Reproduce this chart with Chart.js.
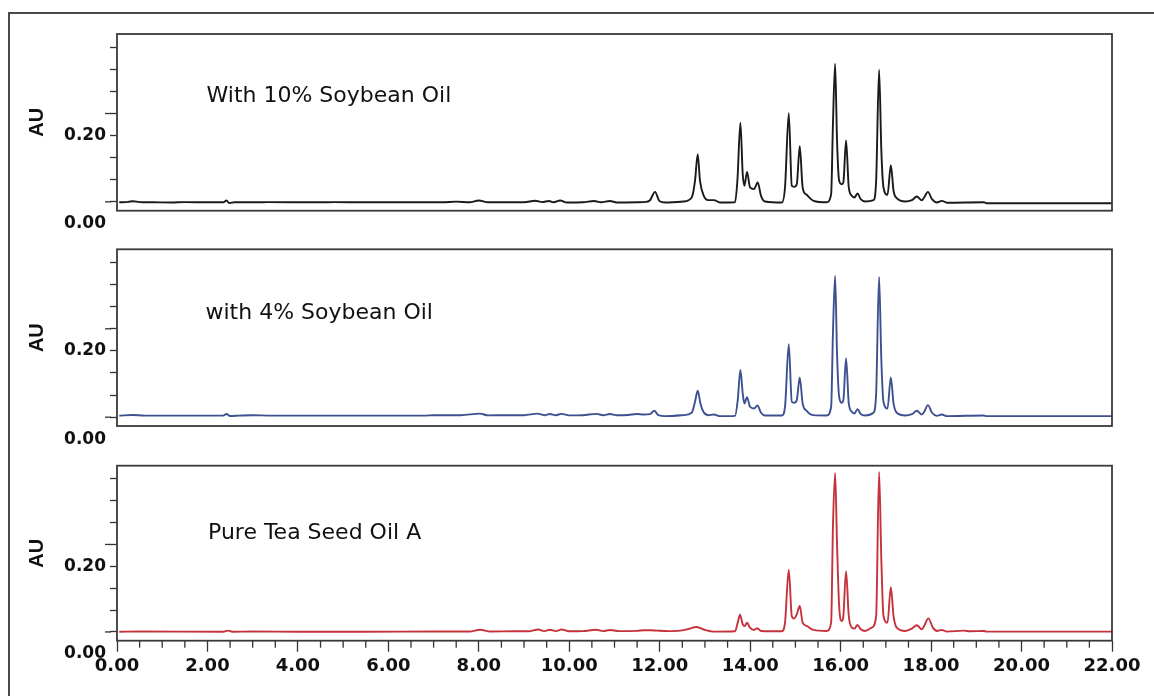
<!DOCTYPE html>
<html><head><meta charset="utf-8">
<script src="https://cdn.jsdelivr.net/npm/chart.js@4"></script>
<style>
html,body{margin:0;padding:0;background:#fff;}
#wrap{position:relative;width:1154px;height:696px;overflow:hidden;background:#fff;}
#frame{position:absolute;left:8px;top:12px;width:1200px;height:800px;border:2px solid #4a4a4a;box-sizing:border-box;}
canvas{position:absolute;left:0;top:0;}
</style></head><body>
<div id="wrap"><div id="frame"></div>
<canvas id="c1" width="1154" height="696"></canvas>
<canvas id="c2" width="1154" height="696"></canvas>
<canvas id="c3" width="1154" height="696"></canvas>
</div>
<script>
// ---- data: [retention time (min), absorbance (AU)] ----
const PANEL_LABELS = ['With 10% Soybean Oil', 'with 4% Soybean Oil', 'Pure Tea Seed Oil A'];
const X_LABELS = ['0.00','2.00','4.00','6.00','8.00','10.00','12.00','14.00','16.00','18.00','20.00','22.00'];
const Y_TICKS = [0.05,0.10,0.15,0.20,0.25,0.30,0.35,0.40];
const Y_LABELED = 0.20;
const Y_LONG_TICKS = [0.05,0.25];
const Y_ZERO_LABEL = '0.00';

const SOY10 = [
[0.05,0.049],[0.25,0.050],[0.35,0.0515],[0.5,0.0495],[0.8,0.049],[1.2,0.0485],[1.5,0.0495],[2.0,0.049],[2.35,0.049],[2.42,0.053],[2.48,0.0475],[2.6,0.049],[3.2,0.049],[3.3,0.0495],[4.5,0.049],[4.8,0.0495],[5.5,0.049],[6.5,0.049],[7.2,0.049],[7.5,0.0505],[7.8,0.049],[8.0,0.053],[8.2,0.049],[8.6,0.049],[9.0,0.049],[9.25,0.0525],[9.4,0.0495],[9.55,0.052],[9.65,0.049],[9.8,0.053],[9.95,0.0485],[10.3,0.049],[10.55,0.052],[10.7,0.049],[10.9,0.052],[11.05,0.0485],[11.5,0.049],[11.7,0.050],
[11.785,0.0537],[11.896,0.0727],[11.99,0.0523],[12.12,0.0485],[12.52,0.0507],[12.707,0.0598],[12.78,0.0977],[12.84,0.158],[12.89,0.098],[12.965,0.066],[13.075,0.054],[13.20,0.054],[13.33,0.0485],[13.665,0.049],[13.717,0.0977],[13.784,0.229],[13.835,0.113],[13.872,0.0864],[13.93,0.118],[13.997,0.0826],[14.085,0.079],[14.167,0.094],[14.24,0.0636],[14.33,0.0507],[14.70,0.0485],[14.77,0.0826],[14.853,0.2507],[14.92,0.0864],[14.97,0.084],[15.03,0.090],[15.096,0.176],[15.16,0.0826],[15.25,0.066],[15.40,0.0523],[15.69,0.049],[15.79,0.0674],[15.83,0.2265],[15.878,0.363],[15.92,0.1886],[15.967,0.0977],[16.025,0.090],[16.06,0.094],[16.12,0.189],[16.18,0.0826],[16.25,0.0636],[16.306,0.060],[16.372,0.069],[16.445,0.056],[16.54,0.0507],[16.725,0.0537],[16.785,0.0977],[16.85,0.349],[16.90,0.166],[16.947,0.0826],[17.036,0.066],[17.11,0.133],[17.17,0.075],[17.24,0.0583],[17.43,0.0507],[17.575,0.0537],[17.685,0.0621],[17.795,0.0537],[17.847,0.060],[17.93,0.0727],[18.02,0.056],[18.13,0.0485],[18.24,0.0523],[18.35,0.048],[19.16,0.049],[19.23,0.047],[22.0,0.047]
];

const SOY4 = [
[0.05,0.0535],[0.35,0.055],[0.6,0.0535],[1.8,0.0535],[2.35,0.0535],[2.42,0.057],[2.5,0.0525],[2.7,0.0535],[3.0,0.0545],[3.4,0.0535],[4.0,0.0535],[5.5,0.0535],[6.8,0.0535],[7.0,0.0545],[7.6,0.0545],[8.03,0.058],[8.2,0.054],[8.6,0.0545],[9.0,0.0545],[9.3,0.058],[9.45,0.0545],[9.57,0.057],[9.7,0.0545],[9.83,0.0575],[10.0,0.054],[10.3,0.0545],[10.6,0.0575],[10.75,0.0545],[10.9,0.057],[11.05,0.0545],[11.3,0.055],[11.49,0.057],[11.65,0.056],
[11.785,0.0568],[11.88,0.0644],[11.97,0.0545],[12.12,0.0523],[12.52,0.0545],[12.707,0.060],[12.78,0.0848],[12.84,0.1098],[12.9,0.081],[12.965,0.0621],[13.075,0.0545],[13.20,0.056],[13.33,0.0523],[13.665,0.053],[13.725,0.0886],[13.784,0.157],[13.835,0.1038],[13.872,0.081],[13.93,0.095],[13.997,0.0735],[14.085,0.0697],[14.16,0.0765],[14.24,0.060],[14.33,0.0538],[14.70,0.0538],[14.77,0.0735],[14.853,0.215],[14.92,0.0848],[14.97,0.0826],[15.03,0.0886],[15.096,0.140],[15.16,0.081],[15.25,0.0644],[15.40,0.0545],[15.69,0.0538],[15.79,0.0735],[15.83,0.240],[15.878,0.370],[15.92,0.1947],[15.967,0.0962],[16.025,0.0826],[16.06,0.0886],[16.12,0.1833],[16.18,0.081],[16.25,0.0621],[16.306,0.0583],[16.372,0.0682],[16.445,0.0568],[16.54,0.0538],[16.725,0.060],[16.785,0.1038],[16.85,0.3674],[16.90,0.1795],[16.947,0.0848],[17.036,0.0697],[17.11,0.140],[17.17,0.081],[17.24,0.060],[17.43,0.0538],[17.575,0.0568],[17.685,0.0644],[17.795,0.056],[17.847,0.0621],[17.93,0.0773],[18.02,0.060],[18.13,0.053],[18.24,0.056],[18.35,0.0523],[19.16,0.0538],[19.23,0.0523],[22.0,0.0523]
];

const PURE = [
[0.05,0.0505],[0.5,0.051],[2.35,0.0505],[2.45,0.053],[2.55,0.0505],[3.0,0.051],[4.0,0.0505],[5.5,0.0505],[7.0,0.051],[7.8,0.051],[8.03,0.055],[8.25,0.051],[8.8,0.0515],[9.1,0.0515],[9.31,0.0555],[9.45,0.052],[9.57,0.055],[9.7,0.052],[9.83,0.0555],[10.0,0.0515],[10.3,0.052],[10.59,0.055],[10.75,0.052],[10.9,0.0545],[11.1,0.052],[11.5,0.0525],[11.65,0.054],[11.8,0.054],
[11.95,0.053],[12.2,0.052],[12.45,0.053],[12.6,0.056],[12.82,0.0614],[13.0,0.0546],[13.19,0.0508],[13.665,0.0516],[13.725,0.0713],[13.776,0.0895],[13.835,0.0675],[13.88,0.0637],[13.93,0.0713],[13.997,0.0599],[14.085,0.0546],[14.16,0.0584],[14.24,0.0523],[14.70,0.0516],[14.77,0.0713],[14.853,0.1925],[14.92,0.0864],[14.97,0.0804],[15.03,0.0902],[15.096,0.1092],[15.16,0.0713],[15.25,0.0637],[15.40,0.0546],[15.69,0.0523],[15.79,0.0713],[15.83,0.291],[15.878,0.4137],[15.92,0.253],[15.967,0.1092],[16.025,0.075],[16.06,0.0864],[16.12,0.1887],[16.18,0.0864],[16.25,0.0599],[16.306,0.0577],[16.372,0.066],[16.445,0.056],[16.54,0.0523],[16.69,0.0599],[16.785,0.0864],[16.85,0.416],[16.90,0.2152],[16.947,0.0864],[17.036,0.0713],[17.11,0.1523],[17.17,0.0864],[17.24,0.0599],[17.43,0.0523],[17.575,0.0577],[17.685,0.0652],[17.795,0.056],[17.847,0.0637],[17.94,0.0811],[18.04,0.0599],[18.13,0.0523],[18.24,0.0546],[18.35,0.0508],[18.72,0.053],[18.87,0.0516],[19.16,0.0523],[19.23,0.0508],[22.0,0.0508]
];

const SERIES = [SOY10, SOY4, PURE];
const COLORS = ['#1a1a1a', '#3d5190', '#c6323c'];

// ---- layout ----
const PANELS = [
  {top: 34,    bottom: 485.3, showX: false, dx: 89.5, dy: 67.5},
  {top: 249.3, bottom: 270,   showX: false, dx: 88.5, dy: 70},
  {top: 465.7, bottom: 15.3,  showX: true,  dx: 91,   dy: 73.6}
];

const deco = {
  id: 'deco',
  afterDraw(chart, args, opts) {
    const {ctx, chartArea: a, scales: {x, y}} = chart;
    ctx.save();
    ctx.strokeStyle = '#333';
    ctx.lineWidth = 1.3;
    Y_LONG_TICKS.forEach(v => {
      const py = y.getPixelForValue(v);
      ctx.beginPath(); ctx.moveTo(a.left - 12, py); ctx.lineTo(a.left - 6, py); ctx.stroke();
    });
    if (opts.showX) {
      x.ticks.forEach(t => {
        if (t.value % 2 !== 0) {
          const px = x.getPixelForValue(t.value);
          ctx.beginPath(); ctx.moveTo(px, a.bottom); ctx.lineTo(px, a.bottom + 7); ctx.stroke();
        }
      });
    }
    ctx.lineWidth = 1.8;
    ctx.strokeStyle = '#3a3a3a';
    ctx.strokeRect(a.left, a.top, a.right - a.left, a.bottom - a.top);
    ctx.fillStyle = '#111';
    ctx.font = 'bold 17px "DejaVu Sans"';
    ctx.textAlign = 'right'; ctx.textBaseline = 'middle';
    ctx.fillText(Y_ZERO_LABEL, a.left - 11, y.getPixelForValue(0));
    ctx.font = '22px "DejaVu Sans"';
    ctx.textAlign = 'left'; ctx.textBaseline = 'alphabetic';
    ctx.fillStyle = '#111';
    ctx.fillText(opts.label, a.left + opts.dx, a.top + opts.dy);
    ctx.restore();
  }
};

PANELS.forEach((p, i) => {
  new Chart(document.getElementById('c' + (i + 1)), {
    type: 'line',
    data: {datasets: [{
      data: SERIES[i].map(d => ({x: d[0], y: d[1]})),
      borderColor: COLORS[i], borderWidth: 1.9, pointRadius: 0,
      cubicInterpolationMode: 'monotone', fill: false
    }]},
    options: {
      animation: false, responsive: false, maintainAspectRatio: false,
      layout: {padding: {left: 0, right: 42, top: p.top, bottom: p.bottom}},
      plugins: {legend: {display: false}, tooltip: {enabled: false},
        deco: {label: PANEL_LABELS[i], dx: p.dx, dy: p.dy, showX: p.showX}},
      scales: {
        x: {
          type: 'linear', min: 0, max: 22, display: p.showX,
          afterFit: s => { s.height = p.showX ? 40 : 0; },
          border: {display: false},
          grid: {drawOnChartArea: false, drawTicks: true, tickLength: 11, tickWidth: 1.3,
                 tickColor: c => (c.tick && c.tick.value % 2 === 0) ? '#333' : 'rgba(0,0,0,0)'},
          ticks: {stepSize: 0.5, autoSkip: false, maxRotation: 0, padding: 4, color: '#111',
                  font: {family: 'DejaVu Sans', size: 18, weight: 'bold'},
                  callback: v => (v % 2 === 0) ? X_LABELS[v / 2] : ''}
        },
        y: {
          min: 0.03, max: 0.43,
          afterFit: s => { s.width = 117; },
          afterBuildTicks: s => { s.ticks = Y_TICKS.map(v => ({value: v})); },
          border: {display: false},
          grid: {drawOnChartArea: false, drawTicks: true, tickLength: 7, tickWidth: 1.3, tickColor: '#333'},
          ticks: {padding: 4, autoSkip: false, color: '#111', font: {family: 'DejaVu Sans', size: 17, weight: 'bold'},
                  callback: v => Math.abs(v - Y_LABELED) < 1e-6 ? Y_LABELED.toFixed(2) : ''},
          title: {display: true, text: 'AU', color: '#111', padding: {top: 25, bottom: 0},
                  font: {family: 'Liberation Sans', size: 20, weight: 'bold'}}
        }
      }
    },
    plugins: [deco]
  });
});
</script>
</body></html>
